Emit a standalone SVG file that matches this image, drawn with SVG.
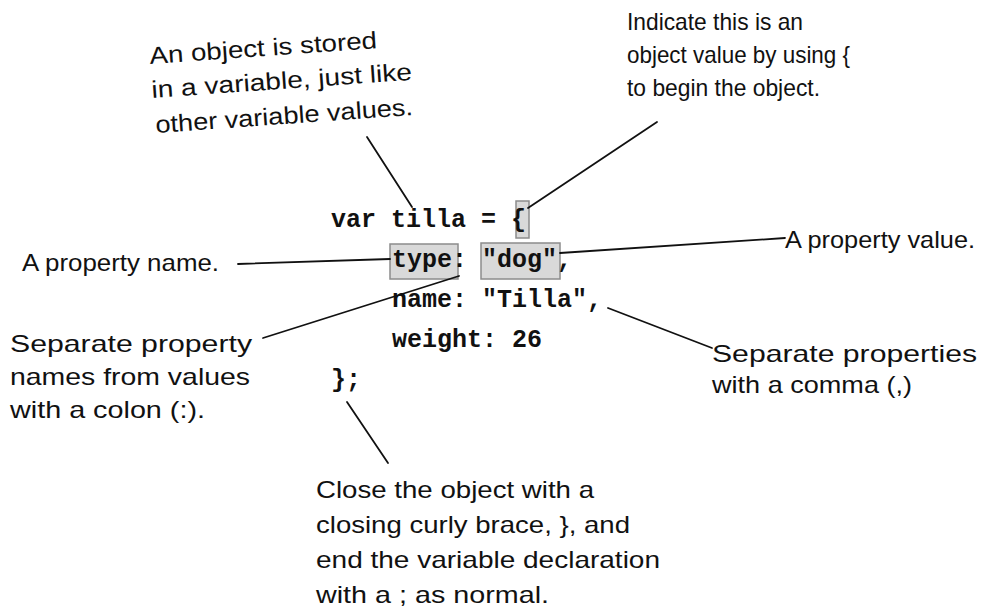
<svg xmlns="http://www.w3.org/2000/svg" width="997" height="615" viewBox="0 0 997 615">
<style>
.hand{font-family:"Liberation Sans","Open Sans",sans-serif;font-size:24px;fill:#111;}
.code{font-family:"Liberation Mono","Courier New",monospace;font-size:25px;font-weight:bold;fill:#111;}
.hl{fill:#d9d9d9;stroke:#8c8c8c;stroke-width:1.5;}
.conn line{stroke:#111;stroke-width:1.8;stroke-linecap:round;}
</style>
<rect width="997" height="615" fill="#fff"/>
<g id="highlights">
<rect class="hl" x="516" y="201" width="13" height="37"/>
<rect class="hl" x="390" y="244" width="68" height="35"/>
<rect class="hl" x="481" y="243" width="79" height="36"/>
</g>
<g id="code">
<text class="code" x="331" y="227">var tilla = {</text>
<text class="code" x="392" y="267">type: "dog",</text>
<text class="code" x="392" y="307">name: "Tilla",</text>
<text class="code" x="392" y="347">weight: 26</text>
<text class="code" x="331" y="387">};</text>
</g>
<g id="connectors" class="conn">
<line x1="367" y1="137" x2="412" y2="207"/>
<line x1="657" y1="122" x2="528" y2="208"/>
<line x1="238" y1="264" x2="390" y2="259"/>
<line x1="263" y1="338" x2="459" y2="276"/>
<line x1="560" y1="253" x2="785" y2="238"/>
<line x1="608" y1="308" x2="712" y2="348"/>
<line x1="347" y1="402" x2="388" y2="463"/>
</g>
<g id="note-variable">
<text class="hand" x="150" y="64" transform="rotate(-4 150 64)" textLength="228" lengthAdjust="spacingAndGlyphs">An object is stored</text>
<text class="hand" x="152" y="98" transform="rotate(-4 152 98)" textLength="261" lengthAdjust="spacingAndGlyphs">in a variable, just like</text>
<text class="hand" x="156" y="133" transform="rotate(-4 156 133)" textLength="258" lengthAdjust="spacingAndGlyphs">other variable values.</text>
</g>
<g id="note-brace">
<text class="hand" x="627" y="30" textLength="176" lengthAdjust="spacingAndGlyphs">Indicate this is an</text>
<text class="hand" x="627" y="63" textLength="223" lengthAdjust="spacingAndGlyphs">object value by using {</text>
<text class="hand" x="627" y="96" textLength="193" lengthAdjust="spacingAndGlyphs">to begin the object.</text>
</g>
<g id="note-name">
<text class="hand" x="22" y="271" textLength="197" lengthAdjust="spacingAndGlyphs">A property name.</text>
</g>
<g id="note-value">
<text class="hand" x="785" y="248" textLength="190" lengthAdjust="spacingAndGlyphs">A property value.</text>
</g>
<g id="note-colon">
<text class="hand" x="10" y="352" textLength="242" lengthAdjust="spacingAndGlyphs">Separate property</text>
<text class="hand" x="10" y="385" textLength="240" lengthAdjust="spacingAndGlyphs">names from values</text>
<text class="hand" x="10" y="418" textLength="195" lengthAdjust="spacingAndGlyphs">with a colon (:).</text>
</g>
<g id="note-comma">
<text class="hand" x="712" y="362" textLength="265" lengthAdjust="spacingAndGlyphs">Separate properties</text>
<text class="hand" x="712" y="393" textLength="200" lengthAdjust="spacingAndGlyphs">with a comma (,)</text>
</g>
<g id="note-close">
<text class="hand" x="316" y="498" textLength="278" lengthAdjust="spacingAndGlyphs">Close the object with a</text>
<text class="hand" x="316" y="533" textLength="314" lengthAdjust="spacingAndGlyphs">closing curly brace, }, and</text>
<text class="hand" x="316" y="568" textLength="344" lengthAdjust="spacingAndGlyphs">end the variable declaration</text>
<text class="hand" x="316" y="603" textLength="233" lengthAdjust="spacingAndGlyphs">with a ; as normal.</text>
</g>
</svg>
